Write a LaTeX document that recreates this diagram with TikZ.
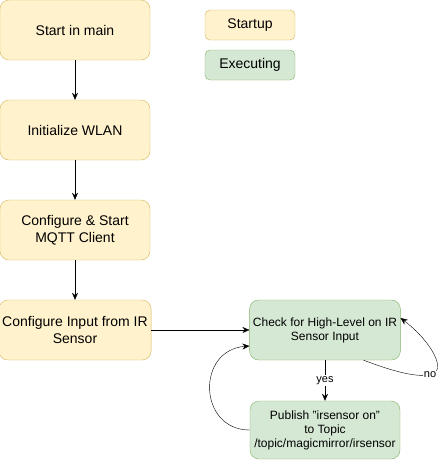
\documentclass[tikz,border=0pt]{standalone}
\usepackage{fontspec}
\setmainfont{Liberation Sans}
\usetikzlibrary{arrows.meta}
\definecolor{startfill}{HTML}{FFF2CC}
\definecolor{startline}{HTML}{D6B656}
\definecolor{execfill}{HTML}{D5E8D4}
\definecolor{execline}{HTML}{82B366}
\begin{document}
\begin{tikzpicture}[x=1pt,y=-1pt,>={Stealth[length=7pt,width=6pt]},
		startbox/.style={draw=startline,fill=startfill,rounded corners=9pt,minimum width=150pt,minimum height=60pt,align=center,font=\fontsize{14}{16.5}\selectfont},
		execbox/.style={draw=execline,fill=execfill,rounded corners=9pt,minimum width=150pt,minimum height=60pt,align=center,font=\fontsize{12}{14}\selectfont},
		lbl/.style={fill=white,inner sep=1pt,font=\fontsize{11}{13}\selectfont}]
				\useasboundingbox (0,0) rectangle (440,461);
				\node[startbox] (main) at (75,30) {Start in main};
				\node[startbox] (wlan) at (75,130) {Initialize WLAN};
				\node[startbox] (mqtt) at (75,230) {Configure \& Start\\MQTT Client};
				\node[startbox] (input) at (75,330) {Configure Input from IR\\Sensor};
				\node[startbox,minimum width=90pt,minimum height=30pt,rounded corners=5pt] (startup) at (250,25) {Startup};
				\node[execbox,minimum width=90pt,minimum height=30pt,rounded corners=5pt,font=\fontsize{14}{16.5}\selectfont] (executing) at (250,65) {Executing};
				\node[execbox] (check) at (325,330) {Check for High-Level on IR\\Sensor Input};
				\node[execbox,minimum height=58pt] (publish) at (325,430) {Publish "irsensor on"\\to Topic\\/topic/magicmirror/irsensor};
				\draw[->] (main) to (wlan);
				\draw[->] (wlan) to (mqtt);
				\draw[->] (mqtt) to (input);
				\draw[->] (input) to (check);
				\draw[->] (check) to node[lbl] {yes} (publish);
				\draw[->] ([xshift=-37pt]check.south east) .. controls (395,372) and (415,377) .. (430,375) node[lbl] {no} .. controls (448,372) and (432,342) .. ([yshift=12pt]check.east);
				\draw[->] (publish.west) .. controls (198,430) and (196,350) .. ([yshift=-16pt]check.west);
			\end{tikzpicture}
\end{document}
